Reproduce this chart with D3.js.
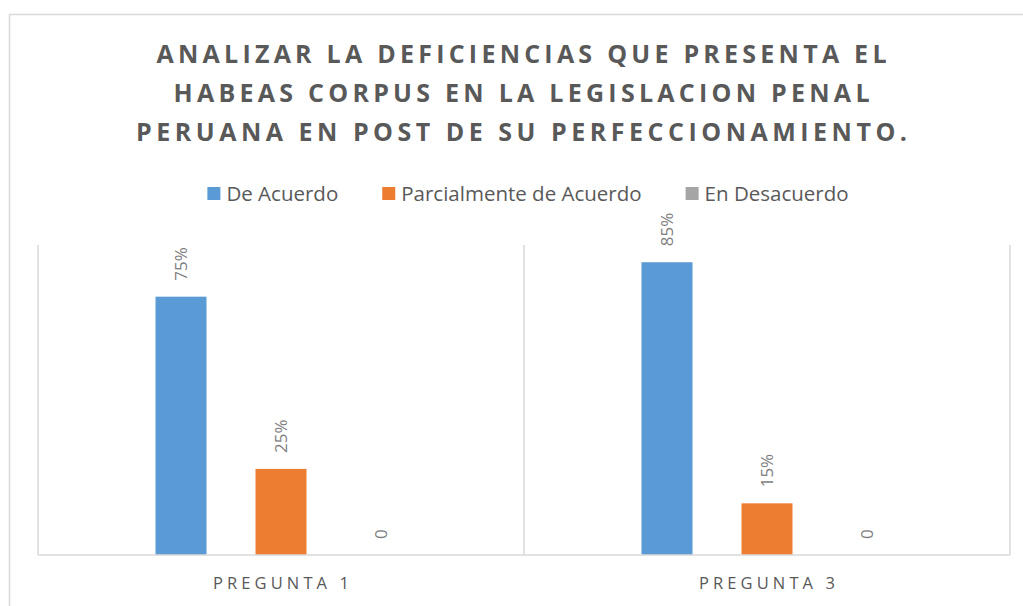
<!DOCTYPE html>
<html>
<head>
<meta charset="utf-8">
<script src="https://cdn.jsdelivr.net/npm/d3@7"></script>
<style>
  body { margin: 0; background: #fff; }
  svg { display: block; font-family: "Open Sans", sans-serif; }
</style>
</head>
<body>
<div id="chart"></div>
<script>
const titleLines = [
  "ANALIZAR LA DEFICIENCIAS QUE PRESENTA EL",
  "HABEAS CORPUS EN LA LEGISLACION PENAL",
  "PERUANA EN POST DE SU PERFECCIONAMIENTO.",
]
const categories = ["PREGUNTA 1", "PREGUNTA 3"]
const seriesNames = ["De Acuerdo", "Parcialmente de Acuerdo", "En Desacuerdo"]
const deAcuerdo = [75, 85]
const parcialmente = [25, 15]
const enDesacuerdo = [0, 0]
const labelDeAcuerdo = ["75%", "85%"]
const labelParcialmente = ["25%", "15%"]
const labelDesacuerdo = ["0", "0"]
const seriesColors = ["#5b9bd5", "#ed7d31", "#a5a5a5"]

const W = 1023
const H = 606
const margin = { top: 245, right: 13, bottom: 51, left: 38 }

const svg = d3.select("#chart")
  .append("svg")
  .attr("width", W)
  .attr("height", H)

// chart area border
svg.append("rect")
  .attr("x", 9.5)
  .attr("y", 14.5)
  .attr("width", W + 20)
  .attr("height", H + 20)
  .attr("fill", "#fff")
  .attr("stroke", "#d9d9d9")
  .attr("stroke-width", 1.5)

// title
const titleWidths = [730, 696, 771]
svg.append("g")
  .selectAll("text")
  .data(titleLines)
  .join("text")
  .attr("x", W / 2 + 10)
  .attr("y", (d, i) => 63 + i * 39)
  .attr("text-anchor", "middle")
  .attr("textLength", (d, i) => titleWidths[i])
  .attr("lengthAdjust", "spacing")
  .style("font-size", "25px")
  .style("font-weight", 700)
  .style("fill", "#595959")
  .text(d => d)

// legend
const legend = svg.append("g")
let lx = 0
seriesNames.forEach((name, i) => {
  const item = legend.append("g").attr("transform", `translate(${lx},0)`)
  item.append("rect")
    .attr("x", 0)
    .attr("y", -6)
    .attr("width", 13)
    .attr("height", 13)
    .attr("fill", seriesColors[i])
  const t = item.append("text")
    .attr("x", 19)
    .attr("y", 7.5)
    .style("font-size", "20.5px")
    .style("fill", "#595959")
    .text(name)
  lx += 19 + t.node().getComputedTextLength() + 44
})
lx -= 44
legend.attr("transform", `translate(${528 - lx / 2},193)`)

const innerW = W - margin.left - margin.right
const x0 = d3.scaleBand()
  .domain(categories)
  .range([margin.left, margin.left + innerW])
  .padding(0)

const x1 = d3.scaleBand()
  .domain(seriesNames)
  .range([-150, 150])
  .paddingInner(0.49)
  .paddingOuter(0.245)

const y = d3.scaleLinear()
  .domain([0, 90])
  .range([H - margin.bottom, margin.top])

const series = [
  { name: seriesNames[0], values: deAcuerdo, labels: labelDeAcuerdo },
  { name: seriesNames[1], values: parcialmente, labels: labelParcialmente },
  { name: seriesNames[2], values: enDesacuerdo, labels: labelDesacuerdo },
]

// category separators
svg.append("g")
  .selectAll("line")
  .data(categories.concat(["end"]))
  .join("line")
  .attr("x1", (d, i) => i < categories.length ? x0(d) : x0.range()[1])
  .attr("x2", (d, i) => i < categories.length ? x0(d) : x0.range()[1])
  .attr("y1", y(90))
  .attr("y2", y(0))
  .attr("stroke", "#d9d9d9")
  .attr("stroke-width", 1.5)

const groups = svg.append("g")
  .selectAll("g")
  .data(categories)
  .join("g")
  .attr("transform", d => `translate(${x0(d) + x0.bandwidth() / 2},0)`)

groups.selectAll("rect")
  .data((c, ci) => series.map((s, si) => ({ s, si, v: s.values[ci], label: s.labels[ci] })))
  .join("rect")
  .attr("x", d => x1(d.s.name))
  .attr("width", x1.bandwidth())
  .attr("y", d => y(d.v))
  .attr("height", d => y(0) - y(d.v))
  .attr("fill", d => seriesColors[d.si])

groups.selectAll("text")
  .data((c, ci) => series.map((s, si) => ({ s, si, v: s.values[ci], label: s.labels[ci] })))
  .join("text")
  .attr("transform", d => `translate(${x1(d.s.name) + x1.bandwidth() / 2 + 6},${y(d.v) - 16}) rotate(-90)`)
  .style("font-size", "17px")
  .style("fill", "#7f7f7f")
  .text(d => d.label)

// baseline
svg.append("line")
  .attr("x1", margin.left)
  .attr("x2", margin.left + innerW)
  .attr("y1", y(0))
  .attr("y2", y(0))
  .attr("stroke", "#d9d9d9")
  .attr("stroke-width", 1.5)

// category labels
svg.append("g")
  .selectAll("text")
  .data(categories)
  .join("text")
  .attr("x", d => x0(d) + x0.bandwidth() / 2)
  .attr("y", 589)
  .attr("text-anchor", "middle")
  .attr("textLength", 136)
  .attr("lengthAdjust", "spacing")
  .style("font-size", "16.5px")
  .style("fill", "#595959")
  .text(d => d)
</script>
</body>
</html>
